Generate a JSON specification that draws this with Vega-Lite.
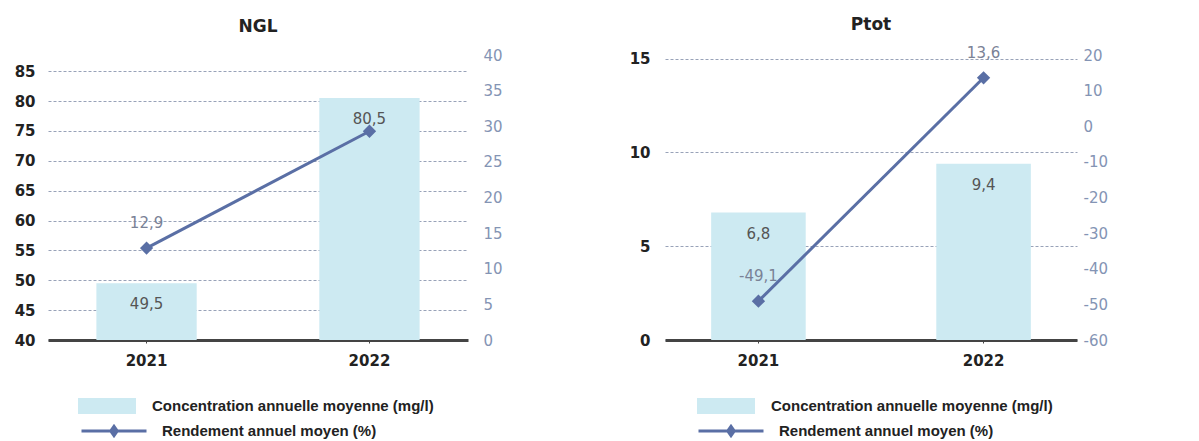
{
  "$schema": "https://vega.github.io/schema/vega-lite/v6.json",
  "padding": {"left": 5, "top": 15, "right": 5, "bottom": 0},
  "background": "white",
  "datasets": {
    "d": [
      {"param": "NGL", "annee": "2021", "concentration": 49.5, "rendement": 12.9, "lab_rend": "12,9"},
      {"param": "NGL", "annee": "2022", "concentration": 80.5, "rendement": 29.3, "lab_rend": ""},
      {"param": "Ptot", "annee": "2021", "concentration": 6.8, "rendement": -49.1, "lab_rend": "-49,1"},
      {"param": "Ptot", "annee": "2022", "concentration": 9.4, "rendement": 13.6, "lab_rend": "13,6"}
    ]
  },
  "config": {
    "locale": {"number": {"decimal": ",", "thousands": " ", "grouping": [3], "currency": ["", " €"], "minus": "-"}},
    "view": {"stroke": null},
    "font": "DejaVu Sans",
    "title": {"font": "DejaVu Sans", "fontSize": 17, "fontWeight": "bold", "color": "#222", "anchor": "middle", "offset": 12},
    "axis": {"labelFont": "DejaVu Sans", "labelFontSize": 15, "labelFontWeight": "bold", "labelColor": "#222", "title": null},
    "legend": {"labelFont": "Liberation Sans", "labelFontSize": 15, "labelFontWeight": "bold", "labelColor": "#222", "labelLimit": 400, "title": null},
    "concat": {"spacing": 117}
  },
  "resolve": {"legend": {"fill": "independent", "stroke": "independent"}},
  "hconcat": [
    {
      "title": "NGL",
      "width": 420,
      "height": 285,
      "data": {"name": "d"},
      "transform": [{"filter": "datum.param === 'NGL'"}],
      "encoding": {
        "x": {"field": "annee", "type": "nominal", "scale": {"paddingInner": 0.55, "paddingOuter": 0.217},
              "axis": {"labelAngle": 0, "domainColor": "#444", "domainWidth": 3, "tickColor": "#444", "tickSize": 3, "labelPadding": 10, "labelFontSize": 15}}
      },
      "layer": [
        {
          "encoding": {
            "y": {"field": "concentration", "type": "quantitative", "scale": {"domain": [40, 87.7], "nice": false, "zero": false},
                  "axis": {"values": [40, 45, 50, 55, 60, 65, 70, 75, 80, 85], "ticks": false, "domain": false, "labelPadding": 13, "minExtent": 43, "maxExtent": 43,
                           "gridColor": "#98a2b8", "gridDash": [3, 2], "gridWidth": 1}}
          },
          "layer": [
            {
              "mark": {"type": "bar", "clip": true},
              "encoding": {
                "y2": {"datum": 40},
                "fill": {"datum": "Concentration annuelle moyenne (mg/l)", "scale": {"range": ["#cdeaf2"]},
                         "legend": {"orient": "none", "legendX": 30, "legendY": 322, "symbolType": "M-1,-0.28H1V0.28H-1Z", "symbolSize": 3364, "symbolStrokeWidth": 0, "labelOffset": 16}}
              }
            },
            {
              "mark": {"type": "text", "dy": 21, "fontSize": 15, "color": "#555", "font": "DejaVu Sans"},
              "encoding": {"text": {"field": "concentration", "type": "quantitative", "format": ".1f"}}
            }
          ]
        },
        {
          "encoding": {
            "y": {"field": "rendement", "type": "quantitative", "scale": {"domain": [0, 40], "nice": false},
                  "axis": {"orient": "right", "values": [0, 5, 10, 15, 20, 25, 30, 35, 40], "grid": false, "ticks": false, "domain": false, "labelPadding": 15, "labelColor": "#8494b4", "labelFontWeight": "normal", "labelFontSize": 15, "minExtent": 40, "maxExtent": 40}}
          },
          "layer": [
            {
              "mark": {"type": "line", "color": "#5a6fa5", "strokeWidth": 3, "point": {"shape": "diamond", "size": 110, "filled": true, "color": "#5a6fa5"}},
              "encoding": {
                "stroke": {"datum": "Rendement annuel moyen (%)", "scale": {"range": ["#5a6fa5"]},
                           "legend": {"orient": "none", "legendX": 32, "legendY": 342, "symbolType": "M-1,0H1M0,-0.14L0.1,0L0,0.14L-0.1,0Z", "symbolSize": 4225, "symbolStrokeWidth": 3, "symbolFillColor": "#5a6fa5", "labelOffset": 14}}
              }
            },
            {
              "mark": {"type": "text", "dy": -25, "fontSize": 15, "color": "#7a8296", "font": "DejaVu Sans"},
              "encoding": {"text": {"field": "lab_rend", "type": "nominal"}}
            }
          ]
        }
      ],
      "resolve": {"scale": {"y": "independent", "fill": "independent", "stroke": "independent"}}
    },
    {
      "title": "Ptot",
      "width": 412,
      "height": 285,
      "data": {"name": "d"},
      "transform": [{"filter": "datum.param === 'Ptot'"}],
      "encoding": {
        "x": {"field": "annee", "type": "nominal", "scale": {"paddingInner": 0.58, "paddingOuter": 0.205},
              "axis": {"labelAngle": 0, "domainColor": "#444", "domainWidth": 3, "tickColor": "#444", "tickSize": 3, "labelPadding": 10, "labelFontSize": 15}}
      },
      "layer": [
        {
          "encoding": {
            "y": {"field": "concentration", "type": "quantitative", "scale": {"domain": [0, 15.2], "nice": false},
                  "axis": {"values": [0, 5, 10, 15], "ticks": false, "domain": false, "labelPadding": 15, "minExtent": 40, "maxExtent": 40,
                           "gridColor": "#98a2b8", "gridDash": [3, 2], "gridWidth": 1}}
          },
          "layer": [
            {
              "mark": {"type": "bar", "clip": true},
              "encoding": {
                "fill": {"datum": "Concentration annuelle moyenne (mg/l)", "scale": {"range": ["#cdeaf2"]},
                         "legend": {"orient": "none", "legendX": 32, "legendY": 322, "symbolType": "M-1,-0.28H1V0.28H-1Z", "symbolSize": 3364, "symbolStrokeWidth": 0, "labelOffset": 16}}
              }
            },
            {
              "mark": {"type": "text", "dy": 21, "fontSize": 15, "color": "#555", "font": "DejaVu Sans"},
              "encoding": {"text": {"field": "concentration", "type": "quantitative", "format": ".1f"}}
            }
          ]
        },
        {
          "encoding": {
            "y": {"field": "rendement", "type": "quantitative", "scale": {"domain": [-60, 20], "nice": false},
                  "axis": {"orient": "right", "values": [-60, -50, -40, -30, -20, -10, 0, 10, 20], "grid": false, "ticks": false, "domain": false, "labelPadding": 6, "labelColor": "#8494b4", "labelFontWeight": "normal", "labelFontSize": 15}}
          },
          "layer": [
            {
              "mark": {"type": "line", "color": "#5a6fa5", "strokeWidth": 3, "point": {"shape": "diamond", "size": 110, "filled": true, "color": "#5a6fa5"}},
              "encoding": {
                "stroke": {"datum": "Rendement annuel moyen (%)", "scale": {"range": ["#5a6fa5"]},
                           "legend": {"orient": "none", "legendX": 32, "legendY": 342, "symbolType": "M-1,0H1M0,-0.14L0.1,0L0,0.14L-0.1,0Z", "symbolSize": 4225, "symbolStrokeWidth": 3, "symbolFillColor": "#5a6fa5", "labelOffset": 14}}
              }
            },
            {
              "mark": {"type": "text", "dy": -25, "fontSize": 15, "color": "#7a8296", "font": "DejaVu Sans"},
              "encoding": {"text": {"field": "lab_rend", "type": "nominal"}}
            }
          ]
        }
      ],
      "resolve": {"scale": {"y": "independent", "fill": "independent", "stroke": "independent"}}
    }
  ]
}
